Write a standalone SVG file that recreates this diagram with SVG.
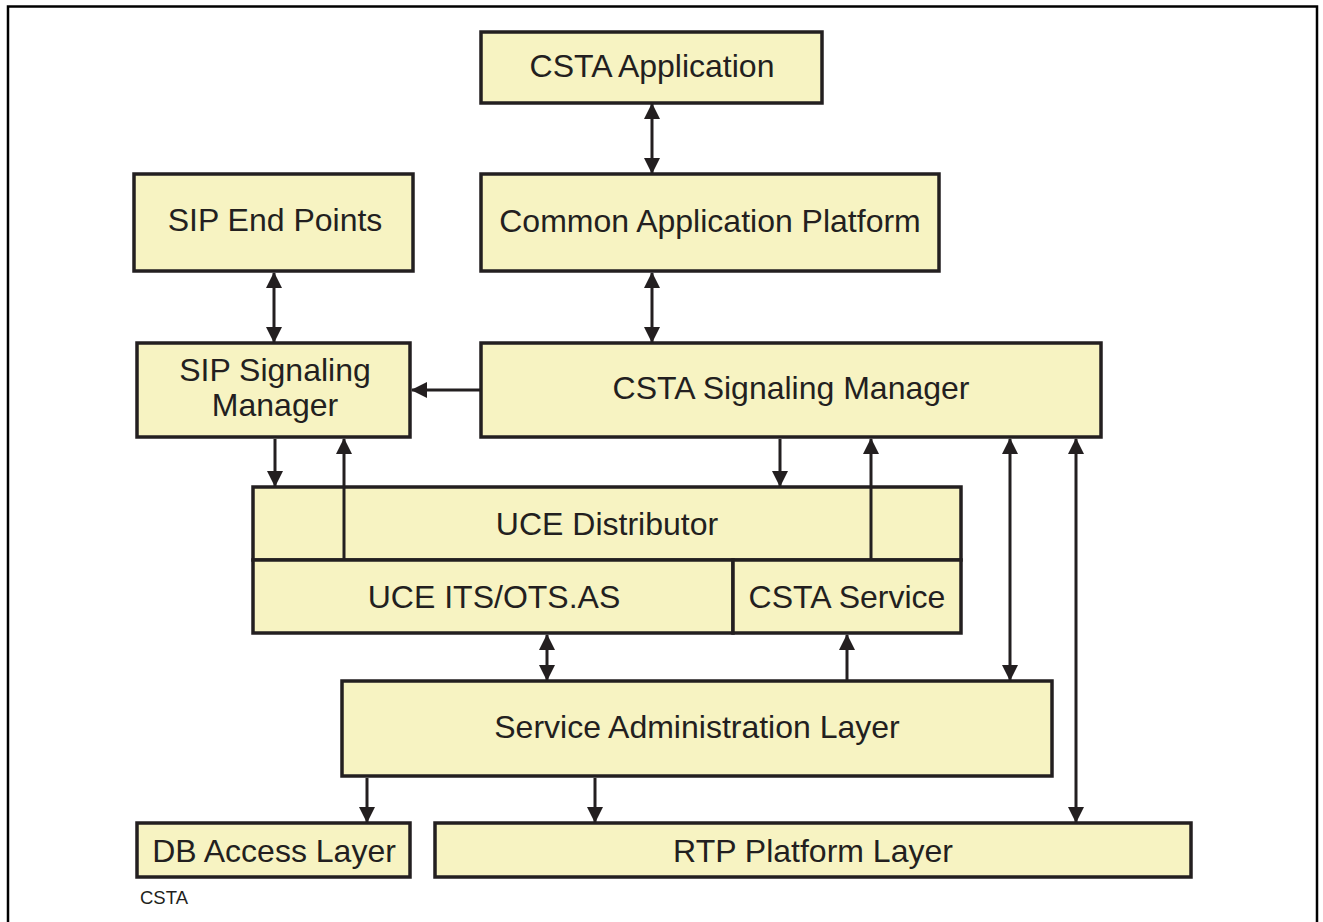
<svg xmlns="http://www.w3.org/2000/svg" width="1323" height="922" viewBox="0 0 1323 922">
<defs>
<style>
.box{fill:#f7f3c2;stroke:#231f20;stroke-width:3.5}
.lbl{font-family:"Liberation Sans",Arial,sans-serif;font-size:32px;fill:#231f20;text-anchor:middle}
.conn{stroke:#231f20;stroke-width:3;fill:none}
.frame{stroke:#000;stroke-width:2.5;fill:none}
</style>
<marker id="ah" viewBox="0 0 16 16" refX="15" refY="8" markerWidth="16" markerHeight="16" markerUnits="userSpaceOnUse" orient="auto-start-reverse">
<path d="M0,0 L16,8 L0,16 Z" fill="#231f20"/>
</marker>
</defs>
<rect width="1323" height="922" fill="#fff"/>
<path class="frame" d="M8,922 V6.5 H1317 V922"/>

<g id="csta-application"><rect class="box" x="481" y="32" width="341" height="71"/><text class="lbl" x="652" y="77">CSTA Application</text></g>
<g id="common-application-platform"><rect class="box" x="481" y="174" width="458" height="97"/><text class="lbl" x="710" y="232">Common Application Platform</text></g>
<g id="sip-end-points"><rect class="box" x="134" y="174" width="279" height="97"/><text class="lbl" x="275" y="231">SIP End Points</text></g>
<g id="sip-signaling-manager"><rect class="box" x="137" y="343" width="273" height="94"/><text class="lbl" x="275" y="381">SIP Signaling</text><text class="lbl" x="275" y="416">Manager</text></g>
<g id="csta-signaling-manager"><rect class="box" x="481" y="343" width="620" height="94"/><text class="lbl" x="791" y="399">CSTA Signaling Manager</text></g>
<g id="uce-distributor"><rect class="box" x="253" y="487" width="708" height="73"/><text class="lbl" x="607" y="535">UCE Distributor</text></g>
<g id="uce-its-ots-as"><rect class="box" x="253" y="560" width="480" height="73"/><text class="lbl" x="494" y="608">UCE ITS/OTS.AS</text></g>
<g id="csta-service"><rect class="box" x="733" y="560" width="228" height="73"/><text class="lbl" x="847" y="608">CSTA Service</text></g>
<g id="service-administration-layer"><rect class="box" x="342" y="681" width="710" height="95"/><text class="lbl" x="697" y="738">Service Administration Layer</text></g>
<g id="db-access-layer"><rect class="box" x="137" y="823" width="273" height="54"/><text class="lbl" x="274" y="862">DB Access Layer</text></g>
<g id="rtp-platform-layer"><rect class="box" x="435" y="823" width="756" height="54"/><text class="lbl" x="813" y="862">RTP Platform Layer</text></g>

<g id="connectors">
<line class="conn" x1="652" y1="104" x2="652" y2="173" marker-start="url(#ah)" marker-end="url(#ah)"/>
<line class="conn" x1="274" y1="273" x2="274" y2="342" marker-start="url(#ah)" marker-end="url(#ah)"/>
<line class="conn" x1="652" y1="273" x2="652" y2="342" marker-start="url(#ah)" marker-end="url(#ah)"/>
<line class="conn" x1="480" y1="390" x2="412" y2="390" marker-end="url(#ah)"/>
<line class="conn" x1="275" y1="439" x2="275" y2="486" marker-end="url(#ah)"/>
<line class="conn" x1="344" y1="559" x2="344" y2="439" marker-end="url(#ah)"/>
<line class="conn" x1="780" y1="439" x2="780" y2="486" marker-end="url(#ah)"/>
<line class="conn" x1="871" y1="559" x2="871" y2="439" marker-end="url(#ah)"/>
<line class="conn" x1="1010" y1="439" x2="1010" y2="680" marker-start="url(#ah)" marker-end="url(#ah)"/>
<line class="conn" x1="1076" y1="439" x2="1076" y2="822" marker-start="url(#ah)" marker-end="url(#ah)"/>
<line class="conn" x1="847" y1="680" x2="847" y2="635" marker-end="url(#ah)"/>
<line class="conn" x1="547" y1="635" x2="547" y2="680" marker-start="url(#ah)" marker-end="url(#ah)"/>
<line class="conn" x1="367" y1="778" x2="367" y2="822" marker-end="url(#ah)"/>
<line class="conn" x1="595" y1="778" x2="595" y2="822" marker-end="url(#ah)"/>
</g>
<text x="140" y="904" style="font-family:'Liberation Sans',Arial,sans-serif;font-size:18.5px;fill:#231f20">CSTA</text>
</svg>
